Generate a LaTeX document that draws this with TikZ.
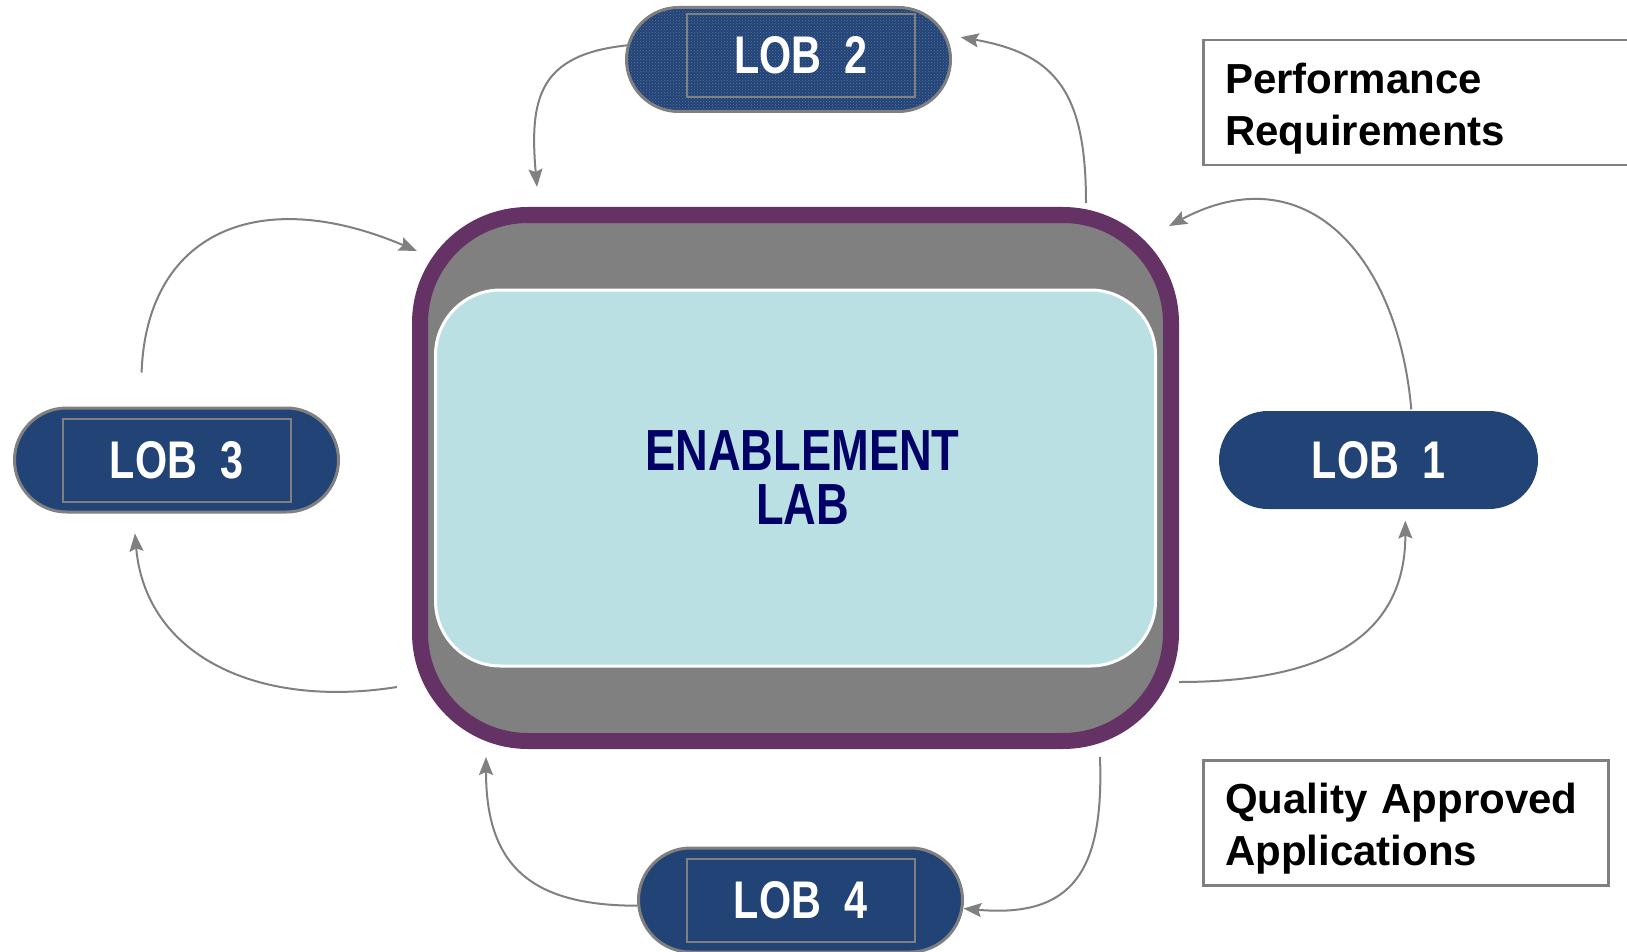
\documentclass[tikz,border=0pt]{standalone}
\usepackage{fontspec}
\setmainfont{Liberation Sans}
\newfontfamily\narrowfont[FakeStretch=0.78]{Liberation Sans}
\usetikzlibrary{arrows.meta,positioning,shapes.misc,patterns}

\definecolor{labpurple}{RGB}{100,50,100}
\definecolor{labgray}{RGB}{128,128,128}
\definecolor{labcyan}{RGB}{186,224,228}
\definecolor{labnavy}{RGB}{0,0,102}
\definecolor{lobblue}{RGB}{34,67,117}
\definecolor{lobdots}{RGB}{90,118,165}

\begin{document}
\begin{tikzpicture}[->,>={Stealth[length=18pt,width=14pt,inset=3pt]},x=1pt,y=1pt]
\tikzstyle{every edge}=[draw=labgray,line width=2pt]
\tikzstyle{lab}=[rectangle,rounded corners=108pt,draw=labpurple,line width=16pt,fill=labgray,minimum width=751pt,minimum height=526pt]
\tikzstyle{core}=[rectangle,rounded corners=65pt,draw=white,line width=3pt,fill=labcyan,minimum width=720pt,minimum height=376pt,text=labnavy,align=center,font=\narrowfont\fontsize{58}{53}\selectfont\bfseries]
\tikzstyle{lob}=[rounded rectangle,fill=lobblue,draw=labgray,line width=3pt,minimum width=324pt,minimum height=104pt,inner sep=0pt,text=white,font=\narrowfont\fontsize{53}{60}\selectfont\bfseries]
\tikzstyle{lobframe}=[rectangle,draw=labgray,line width=2pt,minimum width=228pt,minimum height=83pt,inner sep=0pt,text=white,font=\narrowfont\fontsize{53}{60}\selectfont\bfseries]
\tikzstyle{note}=[rectangle,draw=labgray,line width=2.5pt,anchor=north west,align=left,inner xsep=22pt,inner ysep=0pt,text height=53pt,text depth=72pt,font=\fontsize{42}{52}\selectfont\bfseries]

\useasboundingbox (0,0) rectangle (1627,-952);

\node[lab]          (lab) at (795.5,-478) {};
\node[core]         (core) at (lab) {\hspace*{14pt}ENABLEMENT\\[1pt]\hspace*{14pt}LAB};

\node[lob]          (lob1) [right of=lab,node distance=583pt,yshift=18pt,draw=none,minimum width=319pt,minimum height=98pt] {LOB~~1};
\node[lob]          (lob2) [above of=lab,node distance=418.5pt,xshift=-7pt,pattern=crosshatch dots,pattern color=lobdots,preaction={fill=lobblue}] {};
\node[lobframe]     (lob2frame) [right of=lob2,node distance=12.5pt,yshift=4pt] {LOB~~2};
\node[lob]          (lob3) [left of=lab,node distance=619pt,yshift=18pt] {};
\node[lobframe]     (lob3frame) at (lob3) {LOB~~3};
\node[lob]          (lob4) [below of=lab,node distance=422pt,xshift=5pt] {};
\node[lobframe]     (lob4frame) at (lob4) {LOB~~4};

\node[note,text width=452pt] (perf) at (1202,-39) {Performance\\Requirements};
\node[note,text width=361pt] (qual) at (1202,-759) {Quality Approved\\Applications};

% free ends next to the lab
\coordinate (toLabA) at (537,-187);
\coordinate (fromLabA) at (1086,-203);
\coordinate (toLabB) at (1169,-226);
\coordinate (fromLabB) at (1179,-682);
\coordinate (fromLabC) at (1100,-757);
\coordinate (toLabC) at (486,-757);
\coordinate (fromLabD) at (397,-687);
\coordinate (toLabD) at (417,-251);

\path
(lob2.175) edge[out=186,in=95,looseness=1.35] (toLabA)
(fromLabA) edge[out=90,in=-10,looseness=1.3,shorten >=15pt] (lob2.9)
(lob1.57) edge[out=95,in=28,looseness=1.3] (toLabB)
(fromLabB) edge[out=0,in=-90,looseness=1.2,shorten >=10pt] (lob1.-62)
(fromLabC) edge[out=-88,in=-5,looseness=1.4] (lob4.-3)
(lob4.182) edge[out=180,in=-90,looseness=1.3] (toLabC)
(fromLabD) edge[out=189,in=-85,looseness=1.15,shorten >=20pt] (lob3.-129)
(lob3.124) edge[out=88,in=157,looseness=1.4,shorten <=34pt] (toLabD)
;
\end{tikzpicture}
\end{document}
